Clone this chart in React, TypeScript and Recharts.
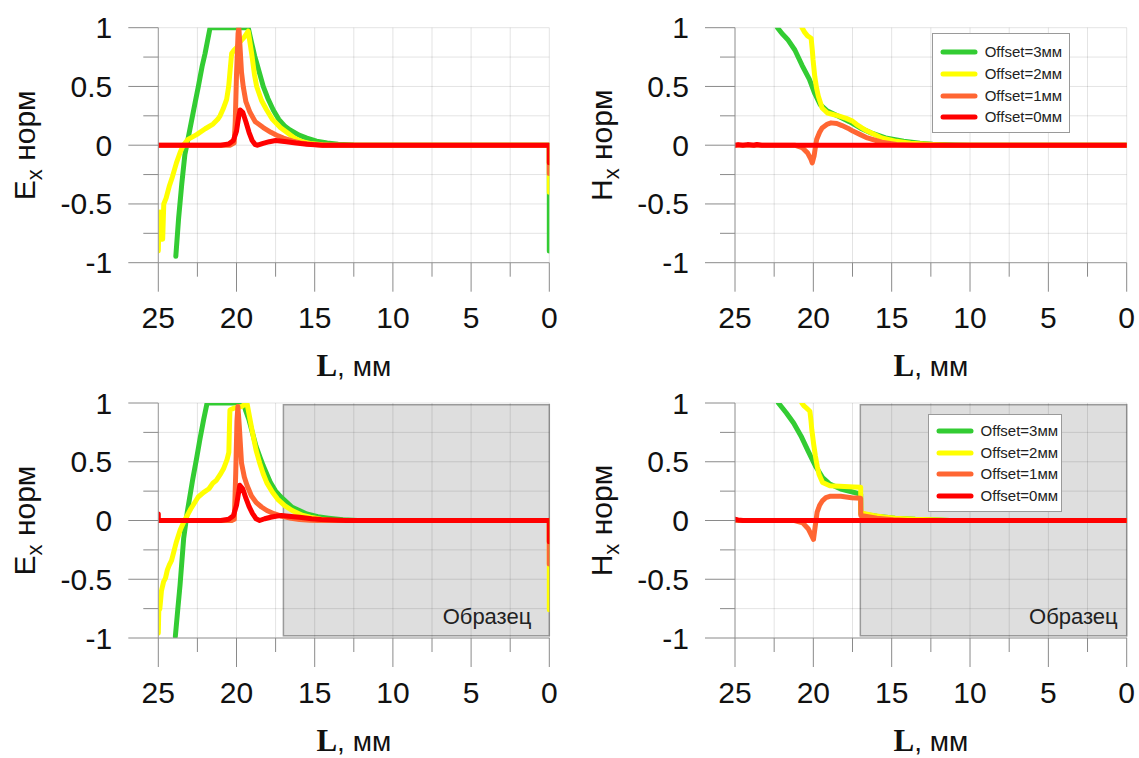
import React from 'react';
import { LineChart, Line, XAxis, YAxis, CartesianGrid, ReferenceArea, Legend } from 'recharts';

type Pt = [number, number];

// Axis ticks (every tick gets a grid line, only the major ones are labelled)
const xTicks = [0, 2.5, 5, 7.5, 10, 12.5, 15, 17.5, 20, 22.5, 25];
const xLabelTicks = [0, 5, 10, 15, 20, 25];
const yTicks = [-1, -0.75, -0.5, -0.25, 0, 0.25, 0.5, 0.75, 1];
const yLabelTicks = [-1, -0.5, 0, 0.5, 1];

const seriesNames = ['Offset=3мм', 'Offset=2мм', 'Offset=1мм', 'Offset=0мм'];
const seriesColors = ['#33cc33', '#ffff00', '#ff6633', '#ff0000'];

const sampleFrom = 17;
const sampleTo = 0;
const sampleLabel = 'Образец';

// ---- Ex, free space ----
const exGreen: Pt[] = [[23.88,-0.945],[23.7,-0.62],[23.5,-0.33],[23.3,-0.08],[23.18,0],[22.87,0.21],[22.65,0.36],[22.44,0.5],[22.2,0.67],[22.01,0.78],[21.69,1],[19.25,1],[19.05,0.88],[18.84,0.76],[18.71,0.7],[18.5,0.6],[18.29,0.5],[18.0,0.4],[17.65,0.3],[17.3,0.22],[16.9,0.16],[16.58,0.13],[16.0,0.085],[15.5,0.06],[14.88,0.034],[14.2,0.018],[13.5,0.008],[12.5,0.002],[11.5,0],[0,0],[0,-0.9]];
const exYellow: Pt[] = [[25,-0.9],[24.95,-0.6],[24.88,-0.57],[24.82,-0.8],[24.72,-0.8],[24.65,-0.5],[24.5,-0.45],[24.3,-0.35],[24.1,-0.27],[23.84,-0.15],[23.6,-0.06],[23.4,0],[23.1,0.05],[22.55,0.09],[22.0,0.14],[21.5,0.18],[21.2,0.22],[21.05,0.25],[20.85,0.31],[20.63,0.39],[20.5,0.5],[20.42,0.62],[20.31,0.78],[20.15,0.81],[19.99,0.83],[19.77,0.88],[19.5,0.92],[19.25,0.97],[19.03,0.78],[18.85,0.6],[18.71,0.5],[18.4,0.38],[18.07,0.3],[17.7,0.22],[17.2,0.15],[16.79,0.11],[16.28,0.06],[15.8,0.03],[15.3,0.014],[14.5,0.004],[14,0],[0,0],[0,-0.4]];
const exOrange: Pt[] = [[25,0],[20.4,0],[20.15,0.02],[20.08,0.2],[20.0,0.6],[19.9,0.95],[19.85,1.0],[19.78,0.85],[19.68,0.62],[19.57,0.5],[19.4,0.37],[19.14,0.28],[18.8,0.2],[18.29,0.15],[17.8,0.11],[17.43,0.085],[17.0,0.06],[16.4,0.035],[15.8,0.016],[15.0,0.005],[14.5,0],[0,0],[0,-0.24]];
const exRed: Pt[] = [[25,0],[21,0],[20.5,0.01],[20.2,0.04],[20.0,0.12],[19.85,0.25],[19.77,0.3],[19.6,0.28],[19.4,0.2],[19.2,0.11],[19.0,0.04],[18.8,0.005],[18.65,0],[18.3,0.015],[17.9,0.03],[17.5,0.04],[16.8,0.03],[16.2,0.018],[15.5,0.008],[14.5,0],[0,0],[0,-0.15]];

// ---- Hx, free space ----
const hxGreen: Pt[] = [[22.29,1.0],[22.0,0.95],[21.64,0.9],[21.18,0.81],[20.72,0.68],[20.25,0.56],[19.91,0.44],[19.56,0.345],[19.1,0.29],[18.4,0.246],[17.7,0.2],[17.01,0.147],[16.32,0.105],[15.39,0.062],[14.24,0.034],[13.2,0.016],[12.38,0.008],[11,0.002],[10,0],[0,0]];
const hxYellow: Pt[] = [[20.72,1.0],[20.55,0.96],[20.37,0.93],[20.14,0.91],[20.06,0.8],[20.02,0.73],[19.91,0.585],[19.8,0.49],[19.68,0.416],[19.44,0.317],[19.1,0.274],[18.4,0.25],[17.9,0.228],[17.5,0.205],[17.25,0.178],[16.9,0.148],[16.55,0.12],[15.63,0.062],[14.7,0.033],[13.8,0.017],[12.38,0.006],[11.2,0],[0,0]];
const hxOrange: Pt[] = [[25,0],[21.2,0],[20.72,-0.02],[20.37,-0.065],[20.15,-0.12],[20.07,-0.15],[19.95,-0.09],[19.85,0.0],[19.79,0.048],[19.6,0.11],[19.44,0.147],[19.1,0.18],[18.87,0.19],[18.5,0.185],[18.17,0.167],[17.8,0.145],[17.48,0.12],[17.0,0.09],[16.55,0.062],[15.63,0.025],[14.7,0.006],[13.54,0],[0,0]];
const hxRed: Pt[] = [[25,0],[24.8,0.005],[24.5,0],[24.2,0.005],[23.8,0],[23.6,0.006],[23.3,0],[0,0]];

// ---- Ex, with sample ----
const exSGreen: Pt[] = [[23.91,-0.986],[23.75,-0.75],[23.61,-0.55],[23.38,-0.155],[23.15,0.07],[22.8,0.35],[22.55,0.53],[22.34,0.69],[22.1,0.86],[21.88,1.0],[19.56,1.0],[19.4,0.93],[19.21,0.86],[18.95,0.73],[18.75,0.63],[18.5,0.54],[18.29,0.465],[17.82,0.32],[17.5,0.25],[17.13,0.197],[16.44,0.113],[15.51,0.056],[14.8,0.032],[14.12,0.02],[13.2,0.006],[12.27,0],[0,0]];
const exSYellow: Pt[] = [[25,-0.96],[24.97,-0.77],[24.9,-0.75],[24.8,-0.6],[24.66,-0.52],[24.54,-0.49],[24.42,-0.42],[24.3,-0.38],[24.15,-0.34],[23.84,-0.18],[23.6,-0.08],[23.38,-0.014],[22.92,0.1],[22.45,0.2],[22.1,0.24],[21.76,0.27],[21.5,0.32],[21.3,0.34],[21.05,0.39],[20.83,0.44],[20.6,0.52],[20.49,0.58],[20.45,0.8],[20.42,0.94],[20.14,0.958],[19.68,0.97],[19.33,1.0],[19.15,0.87],[18.98,0.75],[18.75,0.6],[18.52,0.49],[18.3,0.4],[18.06,0.32],[17.7,0.24],[17.36,0.18],[16.9,0.125],[16.44,0.085],[15.8,0.045],[15.28,0.028],[14.6,0.01],[14.12,0],[0,0],[0,-0.76]];
const exSOrange: Pt[] = [[25,0],[20.3,0],[20.14,0.01],[20.05,0.4],[19.97,0.85],[19.91,0.97],[19.82,0.8],[19.68,0.49],[19.5,0.37],[19.33,0.3],[19.05,0.21],[18.75,0.155],[18.4,0.115],[18.06,0.085],[17.6,0.058],[17.13,0.037],[16.5,0.018],[15.97,0.008],[15.3,0.002],[14.8,0],[0,0],[0,-0.37]];
const exSRed: Pt[] = [[25,0.056],[25,0],[21,0],[20.5,0.01],[20.2,0.04],[20.0,0.13],[19.85,0.25],[19.79,0.3],[19.6,0.27],[19.4,0.19],[19.2,0.12],[18.98,0.06],[18.75,0.015],[18.52,0],[18.2,0.015],[17.82,0.028],[17.4,0.038],[17.13,0.042],[16.5,0.035],[15.97,0.028],[15.2,0.015],[14.58,0.008],[13.5,0.002],[12.96,0],[0,0],[0,-0.18]];

// ---- Hx, with sample ----
const hxSGreen: Pt[] = [[22.23,1.0],[21.72,0.915],[21.26,0.83],[20.79,0.72],[20.33,0.59],[19.87,0.465],[19.41,0.366],[18.95,0.31],[18.25,0.268],[17.56,0.245],[16.98,0.225],[16.97,0.06],[16.5,0.048],[15.94,0.037],[14.79,0.02],[13.5,0.01],[12.48,0.006],[11.3,0],[0,0]];
const hxSYellow: Pt[] = [[20.73,1.0],[20.6,0.975],[20.45,0.958],[20.22,0.93],[20.15,0.85],[20.1,0.775],[19.98,0.65],[19.87,0.55],[19.75,0.46],[19.64,0.394],[19.41,0.324],[18.95,0.296],[18.02,0.29],[17.4,0.286],[16.98,0.282],[16.97,0.065],[16.17,0.042],[15.5,0.03],[14.79,0.02],[13.5,0.01],[12.48,0.006],[11.3,0],[0,0]];
const hxSOrange: Pt[] = [[25,0],[21.2,0],[20.68,-0.02],[20.33,-0.07],[20.1,-0.13],[19.99,-0.16],[19.93,-0.1],[19.87,-0.04],[19.76,0.07],[19.6,0.13],[19.41,0.17],[19.2,0.195],[18.95,0.206],[18.25,0.206],[17.56,0.194],[16.98,0.19],[16.97,0.042],[15.94,0.02],[14.9,0.006],[14,0],[0,0]];
const hxSRed: Pt[] = [[25,0.01],[24.8,0.005],[24.5,0],[0,0]];

const SANS = '"Liberation Sans", Arial, sans-serif';
const SERIF = '"Liberation Serif", "Times New Roman", serif';

const toRows = (pts: Pt[]) => pts.map(([L, v]) => ({ L, v }));

interface LegendSpec { x: number; y: number; w: number; h: number; rowTop: number; rowGap: number }
interface PanelSpec {
  left: number; top: number; width: number; height: number;
  plotLeft: number; plotRight: number; plotTop: number; plotBottom: number;
  field: string;
  series: Pt[][];
  legend?: LegendSpec;
  sampleLabelInset?: number;
}

const LegendBox = ({ spec }: { spec: LegendSpec }) => (
  <div style={{
    width: spec.w, height: spec.h, boxSizing: 'border-box', background: '#fff',
    border: '1px solid #9a9a9a', position: 'relative', fontFamily: SANS,
  }}>
    {seriesNames.map((name, i) => (
      <div key={name} style={{ position: 'absolute', left: 0, top: spec.rowTop + i * spec.rowGap - 10, height: 20, display: 'flex', alignItems: 'center' }}>
        <svg width={52} height={20} style={{ display: 'block' }}>
          <line x1={10} x2={42} y1={10} y2={10} stroke={seriesColors[i]} strokeWidth={5} strokeLinecap="round" />
        </svg>
        <span style={{ fontSize: 15, color: '#222', lineHeight: '20px', whiteSpace: 'nowrap' }}>{name}</span>
      </div>
    ))}
  </div>
);

const Panel = ({ p }: { p: PanelSpec }) => {
  const margin = {
    top: p.plotTop,
    right: p.width - p.plotRight,
    left: p.plotLeft - 40,
    bottom: p.height - p.plotBottom - 60,
  };
  const midX = (p.plotLeft + p.plotRight) / 2;
  const midY = (p.plotTop + p.plotBottom) / 2;

  const xTick = (props: any) => {
    const v = props.payload.value;
    const major = xLabelTicks.includes(v);
    return (
      <g>
        <line x1={props.x} x2={props.x} y1={p.plotBottom} y2={p.plotBottom + (major ? 29 : 14)} stroke="#8a8a8a" strokeWidth={1} />
        {major && (
          <text x={props.x} y={p.plotBottom + 65} textAnchor="middle" fontSize={30} fontFamily={SANS} fill="#111">{v}</text>
        )}
      </g>
    );
  };
  const yTick = (props: any) => {
    const v = props.payload.value;
    const major = yLabelTicks.includes(v);
    return (
      <g>
        <line x1={p.plotLeft - (major ? 30 : 15)} x2={p.plotLeft} y1={props.y} y2={props.y} stroke="#8a8a8a" strokeWidth={1} />
        {major && (
          <text x={p.plotLeft - 46} y={props.y + 10.5} textAnchor="end" fontSize={30} fontFamily={SANS} fill="#111">{v}</text>
        )}
      </g>
    );
  };
  const xTitle = () => (
    <text x={midX} y={p.plotBottom + 113} textAnchor="middle" fill="#111">
      <tspan fontFamily={SERIF} fontWeight="bold" fontSize={31}>L</tspan>
      <tspan fontFamily={SANS} fontSize={28}>, мм</tspan>
    </text>
  );
  const bx = p.plotLeft - 123;
  const yTitle = () => (
    <text x={bx} y={midY} transform={`rotate(-90 ${bx} ${midY})`} textAnchor="middle" fill="#111" fontFamily={SANS} fontSize={30}>
      <tspan>{p.field}</tspan>
      <tspan fontSize={22} dy={7}>x</tspan>
      <tspan dy={-7}> норм</tspan>
    </text>
  );
  const sampleText = (props: any) => {
    const vb = props.viewBox || {};
    return (
      <text x={vb.x + vb.width - (p.sampleLabelInset || 12)} y={vb.y + vb.height - 12} textAnchor="end" fontSize={22} fontFamily={SANS} fill="#222">
        {sampleLabel}
      </text>
    );
  };

  return (
    <div style={{ position: 'absolute', left: p.left, top: p.top }}>
      <LineChart width={p.width} height={p.height} margin={margin}>
        {p.sampleLabelInset !== undefined && (
          <ReferenceArea x1={sampleFrom} x2={sampleTo} y1={-0.98} y2={0.985} fill="#dedede" fillOpacity={1}
            stroke="#9a9a9a" strokeWidth={1.5} zIndex={-200} label={sampleText} ifOverflow="visible" />
        )}
        <CartesianGrid stroke="rgba(0,0,0,0.11)" strokeWidth={1} />
        <XAxis type="number" dataKey="L" domain={[0, 25]} reversed ticks={xTicks} interval={0}
          tick={xTick} tickLine={false} axisLine={{ stroke: '#9a9a9a' }} height={60} label={xTitle} allowDataOverflow />
        <YAxis type="number" domain={[-1, 1]} ticks={yTicks} interval={0}
          tick={yTick} tickLine={false} axisLine={{ stroke: '#9a9a9a' }} width={40} label={yTitle} allowDataOverflow />
        {p.series.map((s, i) => (
          <Line key={seriesNames[i]} name={seriesNames[i]} data={toRows(s)} dataKey="v" type="linear"
            stroke={seriesColors[i]} strokeWidth={5} dot={false} activeDot={false}
            strokeLinejoin="round" strokeLinecap="round" isAnimationActive={false} />
        ))}
        {p.legend && (
          <Legend layout="vertical" align="center" verticalAlign="middle"
            wrapperStyle={{ position: 'absolute', left: p.legend.x, top: p.legend.y, width: p.legend.w, height: p.legend.h }}
            content={() => <LegendBox spec={p.legend as LegendSpec} />} />
        )}
      </LineChart>
    </div>
  );
};

// Top charts are a little taller than their row so the axis titles keep their descenders
const panels: PanelSpec[] = [
  { left: 0, top: 0, width: 570, height: 392, plotLeft: 158.3, plotRight: 549.3, plotTop: 27.7, plotBottom: 262.7,
    field: 'E', series: [exGreen, exYellow, exOrange, exRed] },
  { left: 570, top: 0, width: 569, height: 392, plotLeft: 165, plotRight: 556.7, plotTop: 27.7, plotBottom: 262.7,
    field: 'H', series: [hxGreen, hxYellow, hxOrange, hxRed],
    legend: { x: 361.7, y: 33.3, w: 138, h: 100, rowTop: 17.7, rowGap: 21.8 } },
  { left: 0, top: 380, width: 570, height: 378, plotLeft: 158.3, plotRight: 549.3, plotTop: 23, plotBottom: 258,
    field: 'E', series: [exSGreen, exSYellow, exSOrange, exSRed], sampleLabelInset: 18 },
  { left: 570, top: 380, width: 569, height: 378, plotLeft: 165, plotRight: 556.7, plotTop: 23, plotBottom: 258,
    field: 'H', series: [hxSGreen, hxSYellow, hxSOrange, hxSRed], sampleLabelInset: 9,
    legend: { x: 357.6, y: 33.6, w: 134, h: 98, rowTop: 16.9, rowGap: 21.4 } },
];

export default function App() {
  return (
    <div style={{ position: 'absolute', left: 0, top: 0, width: 1139, height: 758, background: '#fff', fontFamily: SANS }}>
      {panels.map((p, i) => <Panel key={i} p={p} />)}
    </div>
  );
}
